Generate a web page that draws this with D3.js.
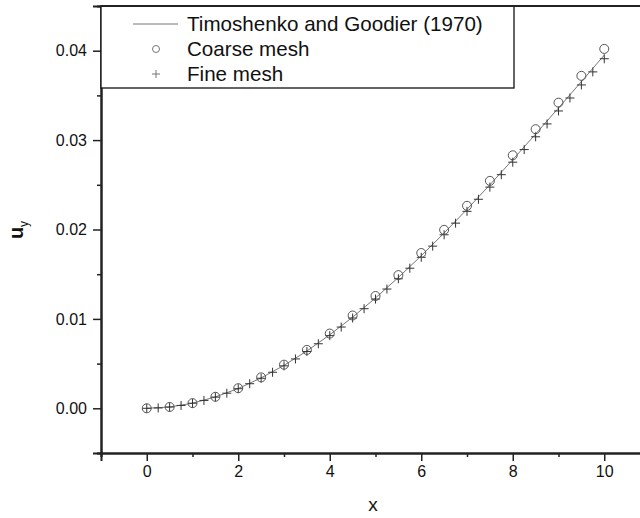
<!DOCTYPE html>
<html>
<head>
<meta charset="utf-8">
<script src="https://cdn.jsdelivr.net/npm/d3@7"></script>
<style>
  html, body { margin: 0; padding: 0; background: #fff; }
  svg { display: block; font-family: Arial, "Liberation Sans", sans-serif; }
</style>
</head>
<body>
<svg id="chart" width="640" height="518"></svg>
<script>
// ---- data ----
const lineX = [0,0.5,1,1.5,2,2.5,3,3.5,4,4.5,5,5.5,6,6.5,7,7.5,8,8.5,9,9.5,10];
const lineY = [0,0.00015,0.00057,0.00127,0.00221,0.0034,0.0048,0.00641,0.00822,0.0102,0.01234,0.01464,0.01706,0.01961,0.02226,0.025,0.02781,0.03068,0.0336,0.03654,0.0395];

const coarseX = [0,0.5,1,1.5,2,2.5,3,3.5,4,4.5,5,5.5,6,6.5,7,7.5,8,8.5,9,9.5,10];
const coarseY = [0,0.00015,0.00058,0.00129,0.00225,0.00346,0.00488,0.00653,0.00836,0.01038,0.01256,0.0149,0.01737,0.01996,0.02265,0.02544,0.0283,0.03122,0.03419,0.03719,0.0402];

const fineX = [0,0.25,0.5,0.75,1,1.25,1.5,1.75,2,2.25,2.5,2.75,3,3.25,3.5,3.75,4,4.25,4.5,4.75,5,5.25,5.5,5.75,6,6.25,6.5,6.75,7,7.25,7.5,7.75,8,8.25,8.5,8.75,9,9.25,9.5,9.75,10];
const fineY = [0,0.00004,0.00014,0.00032,0.00057,0.00088,0.00125,0.00169,0.00219,0.00275,0.00336,0.00403,0.00475,0.00552,0.00635,0.00722,0.00813,0.00909,0.0101,0.01114,0.01222,0.01334,0.01449,0.01567,0.01689,0.01814,0.01941,0.02071,0.02203,0.02338,0.02474,0.02613,0.02753,0.02894,0.03037,0.03181,0.03326,0.03471,0.03617,0.03763,0.0391];

const xMajorTicks = [0,2,4,6,8,10];
const xMinorTicks = [-1,1,3,5,7,9];
const yMajorTicks = [0,0.01,0.02,0.03,0.04];
const yMinorTicks = [-0.005,0.005,0.015,0.025,0.035];

const legendLabels = ["Timoshenko and Goodier (1970)", "Coarse mesh", "Fine mesh"];

// ---- layout ----
const svg = d3.select("#chart");
const pLeft = 101, pRight = 650, pTop = 6, pBottom = 453;
const x = d3.scaleLinear().domain([-1, 11]).range([pLeft, pRight]);
const y = d3.scaleLinear().domain([-0.005, 0.045]).range([pBottom, pTop]);

svg.append("rect").attr("width", 640).attr("height", 518).attr("fill", "#fff");

const axisColor = "#222";
const ff = "Arial, 'Liberation Sans', sans-serif";

// x axis
const gx = svg.append("g").attr("transform", `translate(0,${pBottom})`);
gx.call(d3.axisBottom(x).tickValues(xMinorTicks).tickSize(4).tickFormat(""));
gx.append("g").call(d3.axisBottom(x).tickValues(xMajorTicks).tickSize(8).tickPadding(5).tickFormat(d3.format("d")));
gx.selectAll(".domain").attr("stroke", axisColor).attr("stroke-width", 2);
gx.selectAll(".tick line").attr("stroke", axisColor).attr("stroke-width", 1.5);
gx.selectAll(".tick text").attr("fill", "#111").style("font-size", "16px").style("font-family", ff);

// y axis
const gy = svg.append("g").attr("transform", `translate(${pLeft},0)`);
gy.call(d3.axisLeft(y).tickValues(yMinorTicks).tickSize(4).tickFormat(""));
gy.append("g").call(d3.axisLeft(y).tickValues(yMajorTicks).tickSize(8).tickPadding(6).tickFormat(d3.format(".2f")));
gy.selectAll(".domain").attr("stroke", axisColor).attr("stroke-width", 2);
gy.selectAll(".tick line").attr("stroke", axisColor).attr("stroke-width", 1.5);
gy.selectAll(".tick text").attr("fill", "#111").style("font-size", "16px").style("font-family", ff);

// top frame line
svg.append("line").attr("x1", pLeft).attr("x2", 640).attr("y1", pTop).attr("y2", pTop)
  .attr("stroke", axisColor).attr("stroke-width", 2);

// axis titles
svg.append("text").attr("x", 373).attr("y", 511).attr("text-anchor", "middle")
  .style("font-size", "19px").attr("fill", "#111").text("x");
const yt = svg.append("text").attr("transform", "translate(23,230) rotate(-90)")
  .attr("text-anchor", "middle").style("font-size", "20px").style("font-weight", "bold").attr("fill", "#111");
yt.append("tspan").text("u");
yt.append("tspan").attr("dy", 5).style("font-size", "12px").style("font-weight", "normal").text("y");

// line
const lineData = lineX.map((d, i) => [d, lineY[i]]);
svg.append("path").datum(lineData)
  .attr("fill", "none").attr("stroke", "#777").attr("stroke-width", 1)
  .attr("d", d3.line().x(d => x(d[0])).y(d => y(d[1])));

// fine mesh plus markers
const fineData = fineX.map((d, i) => [d, fineY[i]]);
const pg = svg.append("g").attr("stroke", "#333").attr("stroke-width", 1);
pg.selectAll("path").data(fineData).enter().append("path")
  .attr("d", d => {
    const cx = x(d[0]), cy = y(d[1]), s = 4.5;
    return `M${cx - s},${cy}H${cx + s}M${cx},${cy - s}V${cy + s}`;
  });

// coarse mesh circles
const coarseData = coarseX.map((d, i) => [d, coarseY[i]]);
svg.append("g").selectAll("circle").data(coarseData).enter().append("circle")
  .attr("cx", d => x(d[0])).attr("cy", d => y(d[1])).attr("r", 4.5)
  .attr("fill", "none").attr("stroke", "#555").attr("stroke-width", 1);

// legend
const lg = svg.append("g");
lg.append("rect").attr("x", pLeft).attr("y", pTop).attr("width", 514 - pLeft).attr("height", 88 - pTop)
  .attr("fill", "#fff").attr("stroke", "#111").attr("stroke-width", 1.3);
lg.append("line").attr("x1", pLeft).attr("x2", 640).attr("y1", pTop).attr("y2", pTop)
  .attr("stroke", axisColor).attr("stroke-width", 2);
lg.append("line").attr("x1", 133).attr("x2", 178).attr("y1", 24).attr("y2", 24)
  .attr("stroke", "#777").attr("stroke-width", 1);
lg.append("circle").attr("cx", 156).attr("cy", 49).attr("r", 3.5)
  .attr("fill", "none").attr("stroke", "#777").attr("stroke-width", 1);
lg.append("path").attr("d", "M152,74H160M156,70V78").attr("stroke", "#777").attr("stroke-width", 1);
legendLabels.forEach((t, i) => {
  lg.append("text").attr("x", 187).attr("y", 31 + i * 25)
    .style("font-size", "20.6px").attr("fill", "#111").text(t);
});
</script>
</body>
</html>
